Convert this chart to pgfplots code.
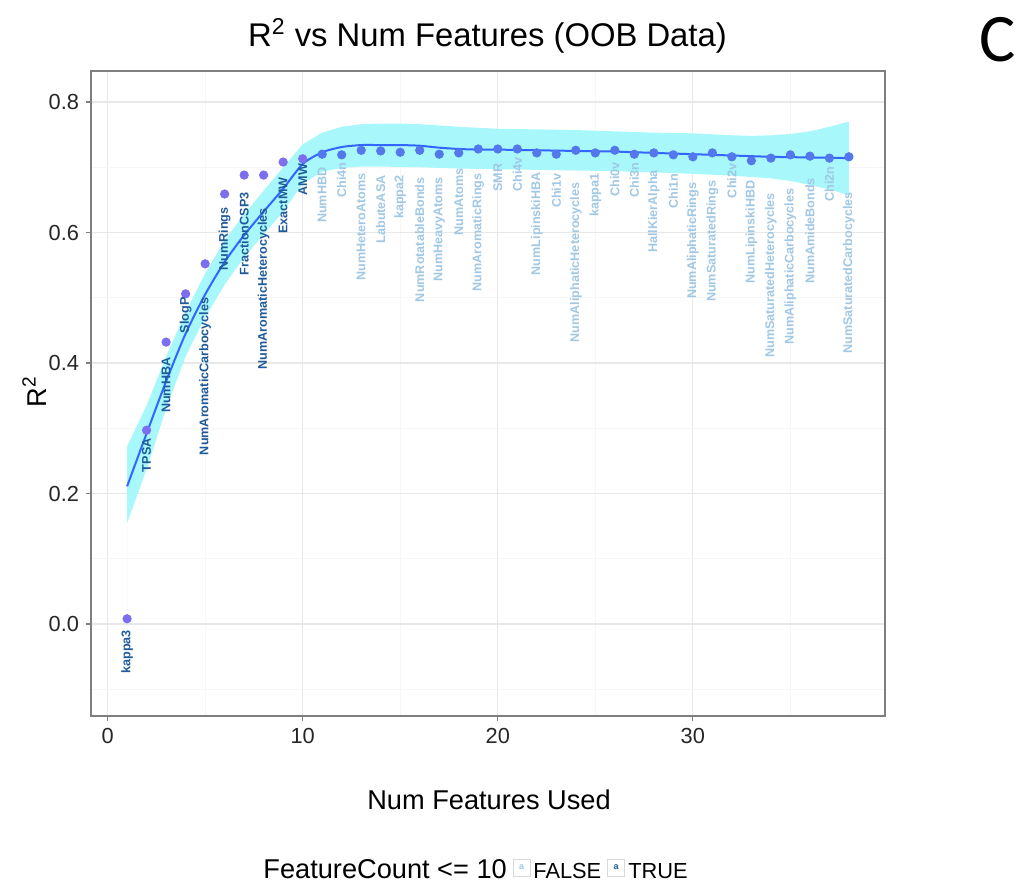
\documentclass[border=0pt]{standalone}
\usepackage{pgfplots}
\usepackage{pgfplotstable}
\pgfplotsset{compat=1.18}
\usepackage{fontspec}
\setmainfont{Liberation Sans}
\newfontfamily\calibri{Carlito}

\definecolor{band}{RGB}{168,247,250}
\definecolor{fitline}{RGB}{51,102,255}
\definecolor{ptT}{RGB}{125,110,240}
\definecolor{ptF}{RGB}{82,120,236}
\definecolor{labT}{RGB}{30,90,155}
\definecolor{labF}{RGB}{160,200,228}
\definecolor{gridmaj}{RGB}{232,232,232}
\definecolor{gridmin}{RGB}{246,246,246}
\definecolor{frame}{RGB}{127,127,127}

% x = features used, r2 = OOB R^2, ly = where the label ends (just under the point)
\pgfplotstableread{
x r2 ly name
1 0.008 -0.009 kappa3
2 0.297 0.285 TPSA
3 0.432 0.409 NumHBA
4 0.506 0.501 SlogP
5 0.552 0.501 NumAromaticCarbocycles
6 0.659 0.639 NumRings
7 0.688 0.662 FractionCSP3
8 0.688 0.638 NumAromaticHeterocycles
9 0.708 0.685 ExactMW
10 0.713 0.706 AMW
11 0.720 0.700 NumHBD
12 0.719 0.708 Chi4n
13 0.726 0.691 NumHeteroAtoms
14 0.725 0.688 LabuteASA
15 0.723 0.688 kappa2
16 0.726 0.685 NumRotatableBonds
17 0.720 0.685 NumHeavyAtoms
18 0.722 0.699 NumAtoms
19 0.728 0.691 NumAromaticRings
20 0.728 0.706 SMR
21 0.728 0.716 Chi4v
22 0.722 0.693 NumLipinskiHBA
23 0.720 0.691 Chi1v
24 0.726 0.677 NumAliphaticHeterocycles
25 0.722 0.691 kappa1
26 0.726 0.708 Chi0v
27 0.720 0.708 Chi3n
28 0.722 0.696 HallKierAlpha
29 0.719 0.691 Chi1n
30 0.716 0.677 NumAliphaticRings
31 0.722 0.680 NumSaturatedRings
32 0.716 0.706 Chi2v
33 0.710 0.680 NumLipinskiHBD
34 0.714 0.661 NumSaturatedHeterocycles
35 0.719 0.668 NumAliphaticCarbocycles
36 0.717 0.684 NumAmideBonds
37 0.714 0.702 Chi2n
38 0.716 0.662 NumSaturatedCarbocycles
}\feat

\begin{document}
\begin{tikzpicture}
\path[use as bounding box] (0,0) rectangle (508pt,-440.5pt);

\begin{axis}[
  at={(45.5pt,-358pt)}, anchor=south west,
  scale only axis, width=397pt, height=322.5pt,
  xmin=-0.85, xmax=39.85, ymin=-0.141, ymax=0.8475,
  xtick={0,10,20,30}, minor xtick={5,15,25,35},
  ytick={0,0.2,0.4,0.6,0.8}, minor ytick={-0.1,0.1,0.3,0.5,0.7},
  grid=both,
  major grid style={gridmaj, line width=0.6pt},
  minor grid style={gridmin, line width=0.6pt},
  axis line style={frame, line width=0.6pt},
  tick style={frame, line width=0.6pt},
  tick align=outside, major tick length=2.5pt, minor tick length=0pt,
  xtick pos=bottom, ytick pos=left,
  ticklabel style={font=\fontsize{10.9}{12}\selectfont, text=black!85},
  /pgf/number format/assume math mode=true,
  yticklabel style={/pgf/number format/.cd, fixed, fixed zerofill, precision=1},
]

% loess confidence band
\addplot[draw=none, fill=band] coordinates {
  (1,0.272) (2,0.335) (3,0.41) (4,0.478) (5,0.537) (6,0.588) (7,0.628)
  (8,0.664) (9,0.700) (10,0.735) (11,0.753) (12,0.762) (13,0.766) (14,0.767)
  (15,0.767) (16,0.766) (17,0.764) (18,0.762) (20,0.759) (22,0.758) (24,0.757)
  (26,0.755) (28,0.753) (30,0.752) (32,0.749) (33,0.748) (34,0.749) (35,0.751)
  (36,0.755) (37,0.762) (38,0.770)
  (38,0.657) (37,0.666) (36,0.673) (35,0.679) (34,0.683) (32,0.687) (30,0.690)
  (28,0.692) (26,0.694) (24,0.695) (22,0.696) (20,0.697) (18,0.698) (16,0.700)
  (14,0.701) (13,0.701) (12,0.699) (11,0.693) (10,0.675) (9,0.632) (8,0.597)
  (7,0.562) (6,0.52) (5,0.47) (4,0.41) (3,0.33) (2,0.237) (1,0.155)
} \closedcycle;

% loess fit
\addplot[fitline, line width=1pt, smooth, tension=0.4] coordinates {
  (1,0.211) (2,0.292) (3,0.372) (4,0.445) (5,0.505) (6,0.555) (7,0.596)
  (8,0.632) (9,0.667) (10,0.705) (11,0.723) (12,0.731) (13,0.734) (14,0.734)
  (15,0.734) (16,0.733) (17,0.730) (18,0.728) (19,0.727) (20,0.727) (22,0.726)
  (24,0.725) (26,0.724) (28,0.722) (30,0.720) (32,0.718) (34,0.716) (36,0.715)
  (38,0.714)
};

% points
\addplot[only marks, mark=*, mark size=2.1pt, ptF, restrict x to domain=11:38]
  table[x=x, y=r2] {\feat};
\addplot[only marks, mark=*, mark size=2.1pt, ptT, restrict x to domain=1:10]
  table[x=x, y=r2] {\feat};

% feature names
\addplot[draw=none, restrict x to domain=11:38, nodes near coords,
  point meta=explicit symbolic,
  nodes near coords style={rotate=90, anchor=east, inner sep=0pt, text=labF,
    font=\bfseries\fontsize{6.3}{7}\selectfont}]
  table[x=x, y=ly, meta=name] {\feat};
\addplot[draw=none, restrict x to domain=1:10, nodes near coords,
  point meta=explicit symbolic,
  nodes near coords style={rotate=90, anchor=east, inner sep=0pt, text=labT,
    font=\bfseries\fontsize{6.3}{7}\selectfont}]
  table[x=x, y=ly, meta=name] {\feat};
\end{axis}

\node[anchor=base, font=\fontsize{16.4}{18}\selectfont] at (243.75pt,-23.5pt)
  {R\textsuperscript{2} vs Num Features (OOB Data)};
\node[anchor=base, rotate=90, font=\fontsize{13.6}{15}\selectfont] at (23pt,-196pt)
  {R\textsuperscript{2}};
\node[anchor=base, font=\fontsize{13.6}{15}\selectfont] at (244.5pt,-404.5pt)
  {Num Features Used};

% legend
\node[anchor=base west, inner sep=0pt, font=\fontsize{13.6}{15}\selectfont] at (131.5pt,-439pt)
  {FeatureCount <= 10};
\node[draw=black!15, fill=white, minimum size=8.5pt, inner sep=0pt,
  font=\bfseries\fontsize{4.5}{5}\selectfont, text=labF] at (260.75pt,-433.75pt) {a};
\node[anchor=base west, inner sep=0pt, font=\fontsize{10.9}{12}\selectfont] at (266.5pt,-439pt) {FALSE};
\node[draw=black!15, fill=white, minimum size=8.5pt, inner sep=0pt,
  font=\bfseries\fontsize{4.5}{5}\selectfont, text=labT] at (308pt,-433.75pt) {a};
\node[anchor=base west, inner sep=0pt, font=\fontsize{10.9}{12}\selectfont] at (314pt,-439pt) {TRUE};

% panel letter of the source figure
\node[anchor=base east, inner sep=0pt, font=\calibri\fontsize{34}{38}\selectfont] at (508pt,-31pt) {C};
\end{tikzpicture}
\end{document}
